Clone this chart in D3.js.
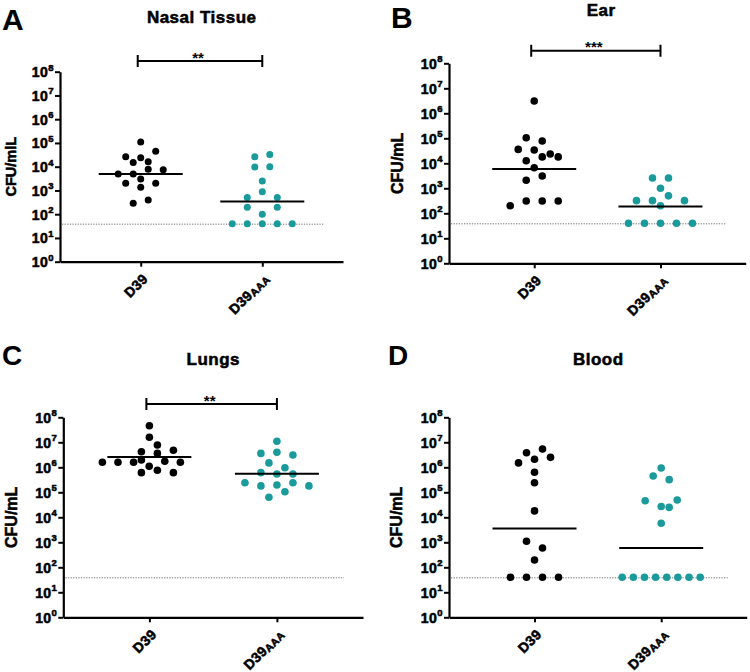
<!DOCTYPE html>
<html>
<head>
<meta charset="utf-8">
<script src="https://cdn.jsdelivr.net/npm/d3@7"></script>
<style>
  html, body { margin: 0; padding: 0; background: #fff; }
  svg { display: block; }
  text { font-family: "Liberation Sans", Arial, sans-serif; font-weight: bold; fill: #000; }
  text.heavy { stroke: #000; stroke-width: 0.55px; }
</style>
</head>
<body>
<svg id="chart" width="750" height="672"></svg>
<script>
// ---------------- DATA ----------------
const categories = ["D39", "D39AAA"];
const panelLetters = ["A", "B", "C", "D"];
const panelTitles = ["Nasal Tissue", "Ear", "Lungs", "Blood"];
const yAxisLabels = ["CFU/mlL", "CFU/mL", "CFU/mL", "CFU/mL"];
const yTickExponents = [0, 1, 2, 3, 4, 5, 6, 7, 8];
const detectionLimit = 38;
const significance = ["**", "***", "**", ""];

// CFU/mL values
const nasalD39 = [1.5e4, 4.9e3, 2e3, 2.6e4, 4.9e3, 290, 1.1e5, 2.4e4, 7.8e3, 3e3, 1350, 400, 4.5e4, 1.6e4, 7.5e3, 2e3];
const nasalAAA = [40, 500, 195, 40, 9.7e3, 2.6e4, 2.5e3, 890, 100, 40, 1e4, 3.3e4, 500, 195, 40, 40];
const earD39 = [3.6e4, 200, 3.4e4, 1.27e4, 1.05e5, 2.1e3, 310, 3.1e6, 1.8e4, 6.6e3, 7.8e4, 3.1e3, 310, 1.8e4, 310, 2.35e4];
const earAAA = [40, 320, 40, 2.6e3, 1e3, 320, 40, 2.6e3, 500, 200, 40, 320, 40];
const lungsD39 = [4.2e6, 1.95e6, 1.6e6, 6.1e5, 1.6e6, 4.6e7, 7.8e6, 1.6e6, 7.6e5, 1.6e7, 3.6e6, 1.1e6, 4.8e6, 1.74e6, 6.1e5, 1.6e6];
const lungsAAA = [6.1e5, 2.4e5, 3.6e6, 1.5e6, 5.4e5, 1.8e5, 6.3e4, 1.1e7, 4e6, 5.4e5, 1.95e5, 3.1e6, 9.6e5, 2.4e5, 1.05e5, 1.8e5];
const bloodD39 = [3.8e6, 1.5e6, 40, 2.1e6, 1.1e3, 40, 6.3e5, 2.4e5, 1.8e4, 195, 5.4e6, 2.5e6, 590, 40, 40];
const bloodAAA = [40, 40, 4.6e4, 40, 4.5e5, 2.5e4, 40, 5.8e3, 9.4e5, 3.2e5, 2.7e4, 40, 4.9e4, 40, 40, 40];

// summary lines
const nasalMeans = [4.9e3, 340];
const earMeans = [5.9e3, 185];
const lungsMeans = [2.6e6, 5.5e5];
const bloodMeans = [3.6e3, 590];

const panelData = [
  [nasalD39, nasalAAA], [earD39, earAAA], [lungsD39, lungsAAA], [bloodD39, bloodAAA]
];
const panelMeans = [nasalMeans, earMeans, lungsMeans, bloodMeans];

// ---------------- LAYOUT ----------------
const layout = [
  { axisX: 60,    yTop: 71.7,  yBot: 261.7, xEnd: 343,   pad: 0.664, letterX: 2,   letterY: 30,  letterSize: 30,
    titleX: 201.7, titleY: 23.3, labelX: 16.2, labelSize: 14.5, spacing: 15, r: 3.5, bracketDy: -10.7 },
  { axisX: 449,   yTop: 63.3,  yBot: 263.3, xEnd: 745.7, pad: 0.675, letterX: 391, letterY: 28,  letterSize: 30,
    titleX: 601.2, titleY: 16, labelX: 402.5, labelSize: 16, spacing: 16, r: 3.8, bracketDy: -12.6 },
  { axisX: 63.3,  yTop: 417.3, yBot: 617.3, xEnd: 363,   pad: 0.675, letterX: 2,   letterY: 365, letterSize: 28,
    titleX: 213.3, titleY: 365, labelX: 17.4, labelSize: 16, spacing: 16, r: 3.8, bracketDy: -13.3 },
  { axisX: 449,   yTop: 417.3, yBot: 617.3, xEnd: 746.7, pad: 0.675, letterX: 388, letterY: 365, letterSize: 28,
    titleX: 598.3, titleY: 365, labelX: 402.4, labelSize: 16, spacing: 16, r: 3.8, bracketDy: 0 }
];
const colors = ["#000000", "#1b9a9b"];

// ---------------- SWARM LAYOUT ----------------
function swarm(values, y, s, r) {
  const T = 7, Dmin = 2 * r + 0.3, maxSpan = 78, h = s / 2;
  const pts = values.map((v, i) => ({ v, i, y: y(v), dx: 0 }));
  const sorted = pts.slice().sort((a, b) => a.y - b.y || a.i - b.i);
  const rows = [];
  let cur = null;
  for (const p of sorted) {
    if (!cur || p.y - cur.y0 > T) { cur = { y0: p.y, pts: [] }; rows.push(cur); }
    cur.pts.push(p);
  }
  const placed = [];
  for (const row of rows) {
    const rp = row.pts.sort((a, b) => a.i - b.i);
    const n = rp.length;
    const sp = n > 1 ? Math.min(s, maxSpan / (n - 1)) : s;
    const shifts = [0, h, -h, 2 * h, -2 * h, 3 * h, -3 * h, 4 * h, -4 * h];
    let chosen = null;
    outer:
    for (const sh of shifts) {
      for (const f of [1, 2, 3]) {
        if (f > 1 && (n < 2 || (n - 1) * sp * f > maxSpan + 1)) continue;
        const offs = rp.map((p, k) => (k - (n - 1) / 2) * sp * f + sh);
        const ok = rp.every((p, k) => placed.every(q => Math.hypot(offs[k] - q.dx, p.y - q.y) >= Dmin));
        if (ok) { chosen = offs; break outer; }
      }
    }
    if (!chosen) chosen = rp.map((p, k) => (k - (n - 1) / 2) * sp);
    rp.forEach((p, k) => { p.dx = chosen[k]; placed.push(p); });
  }
  return pts;
}

// ---------------- DRAW ----------------
const svg = d3.select("#chart");

layout.forEach((L, pi) => {
  const g = svg.append("g");
  const y = d3.scaleLog().domain([1, 1e8]).range([L.yBot, L.yTop]);
  const x = d3.scalePoint().domain(categories).range([L.axisX, L.xEnd]).padding(L.pad);

  // panel letter
  g.append("text").attr("x", L.letterX).attr("y", L.letterY)
    .style("font-size", L.letterSize + "px").text(panelLetters[pi]);
  // title
  g.append("text").attr("class", "heavy").attr("x", L.titleX).attr("y", L.titleY).attr("text-anchor", "middle")
    .style("font-size", "17px").style("letter-spacing", "0.5px").text(panelTitles[pi]);

  // detection limit dotted line
  g.append("line")
    .attr("x1", L.axisX + 2).attr("x2", L.xEnd - 19)
    .attr("y1", y(detectionLimit)).attr("y2", y(detectionLimit))
    .attr("stroke", "#777").attr("stroke-width", 1).attr("stroke-dasharray", "1.3,1.3");

  // y axis
  const yAxis = d3.axisLeft(y).tickValues(yTickExponents.map(e => Math.pow(10, e)))
    .tickSize(5).tickSizeOuter(0).tickFormat("");
  const ya = g.append("g").attr("transform", `translate(${L.axisX},0)`).call(yAxis);
  ya.select(".domain").attr("stroke", "#000").attr("stroke-width", 2.2);
  ya.selectAll(".tick line").attr("stroke", "#000").attr("stroke-width", 2);

  yTickExponents.forEach(e => {
    const t = g.append("text").attr("class", "heavy").attr("x", L.axisX - 6.5).attr("y", y(Math.pow(10, e)) + 5.5)
      .attr("text-anchor", "end").style("font-size", "14px");
    t.append("tspan").style("letter-spacing", "0.4px").text("10");
    t.append("tspan").attr("dy", -6.5).style("font-size", "9.5px").text(e);
  });

  // x axis
  const xAxis = d3.axisBottom(x).tickSize(5).tickSizeOuter(0).tickFormat("");
  const xa = g.append("g").attr("transform", `translate(0,${L.yBot})`).call(xAxis);
  xa.select(".domain").attr("stroke", "#000").attr("stroke-width", 2.2);
  xa.selectAll(".tick line").attr("stroke", "#000").attr("stroke-width", 2);

  categories.forEach(c => {
    const t = g.append("text").attr("class", "heavy")
      .attr("transform", `translate(${x(c) + 8},${L.yBot + 18}) rotate(-45)`)
      .attr("text-anchor", "end").style("font-size", "14px").style("letter-spacing", "0.3px");
    if (c === "D39AAA") {
      t.append("tspan").text("D39");
      t.append("tspan").attr("dy", 1).style("font-size", "10.5px").text("AAA");
    } else {
      t.text(c);
    }
  });

  // y axis label
  g.append("text").attr("class", "heavy")
    .attr("transform", `translate(${L.labelX},${(L.yTop + L.yBot) / 2}) rotate(-90)`)
    .attr("text-anchor", "middle").style("font-size", L.labelSize + "px").text(yAxisLabels[pi]);

  // points
  categories.forEach((c, ci) => {
    const pts = swarm(panelData[pi][ci], y, L.spacing, L.r);
    g.append("g").selectAll("circle").data(pts).join("circle")
      .attr("cx", d => x(c) + d.dx).attr("cy", d => d.y).attr("r", L.r)
      .attr("fill", colors[ci]);
    // mean line
    const m = panelMeans[pi][ci];
    g.append("line").attr("x1", x(c) - 42).attr("x2", x(c) + 42)
      .attr("y1", y(m)).attr("y2", y(m)).attr("stroke", "#000").attr("stroke-width", 2);
  });

  // significance bracket
  if (significance[pi]) {
    const by = L.yTop + L.bracketDy;
    const x1 = x(categories[0]) - 3, x2 = x(categories[1]);
    g.append("path")
      .attr("d", `M${x1},${by - 6}V${by + 6}M${x1},${by}H${x2}M${x2},${by - 6}V${by + 6}`)
      .attr("stroke", "#000").attr("stroke-width", 2).attr("fill", "none");
    g.append("text").attr("x", (x1 + x2) / 2 - 2).attr("y", by + 1.5)
      .attr("text-anchor", "middle").style("font-size", "15px").text(significance[pi]);
  }
});
</script>
</body>
</html>
